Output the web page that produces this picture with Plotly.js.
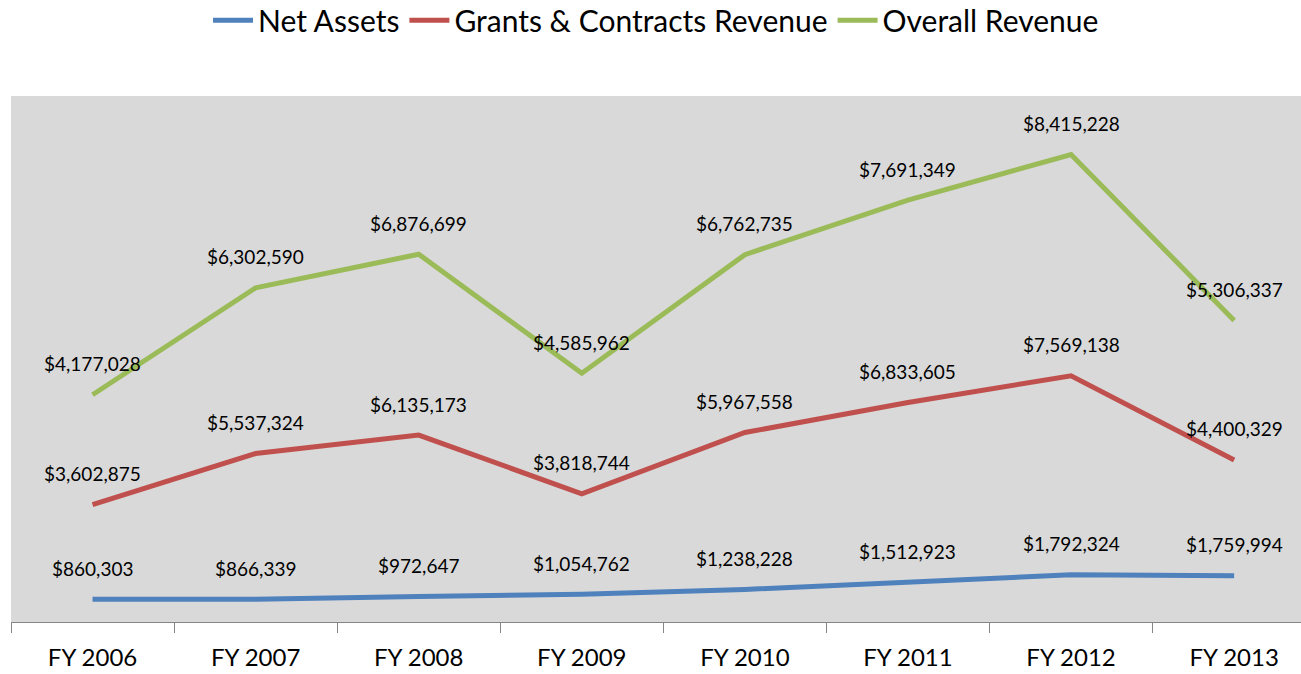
<!doctype html>
<html><head><meta charset="utf-8" />
<script src="https://cdn.plot.ly/plotly-3.0.1.min.js"></script>
<style>
  html, body { margin:0; padding:0; background:#fff; }
  #chart { width:1301px; height:674px; }
</style></head>
<body>
<div id="chart"></div>
<script>
// stacked line chart (Excel style): each series sits on top of the previous one
const years = ['FY 2006', 'FY 2007', 'FY 2008', 'FY 2009', 'FY 2010', 'FY 2011', 'FY 2012', 'FY 2013'];
const netAssets = [860303, 866339, 972647, 1054762, 1238228, 1512923, 1792324, 1759994];
const grants = [3602875, 5537324, 6135173, 3818744, 5967558, 6833605, 7569138, 4400329];
const overall = [4177028, 6302590, 6876699, 4585962, 6762735, 7691349, 8415228, 5306337];

const series = [
  { name: 'Net Assets', values: netAssets, color: '#4F81BD' },
  { name: 'Grants & Contracts Revenue', values: grants, color: '#C0504D' },
  { name: 'Overall Revenue', values: overall, color: '#9BBB59' },
];

const FONT = 'Lato, "Open Sans", sans-serif';
const fmt = (v) => '$' + v.toLocaleString('en-US');

const traces = series.map((s) => ({
  type: 'scatter', mode: 'lines', name: s.name,
  x: years, y: s.values, stackgroup: 'one', fill: 'none',
  line: { color: s.color, width: 5 },
  hoverinfo: 'skip',
}));

// data labels sit above the stacked point
const annotations = [];
const base = years.map(() => 0);
series.forEach((s) => {
  s.values.forEach((v, i) => {
    base[i] += v;
    annotations.push({
      x: years[i], y: base[i], text: fmt(v), showarrow: false,
      yanchor: 'middle', yshift: 31,
      font: { family: FONT, size: 19, color: '#000' },
    });
  });
});

const layout = {
  width: 1301, height: 674,
  paper_bgcolor: '#fff', plot_bgcolor: '#D9D9D9',
  margin: { l: 11, r: 0, t: 96, b: 52 },
  font: { family: FONT, color: '#000' },
  showlegend: true,
  legend: {
    orientation: 'h', x: 0.5, xanchor: 'center', y: 0.97, yanchor: 'middle',
    yref: 'container', traceorder: 'normal',
    font: { family: FONT, size: 30, color: '#000' },
    itemwidth: 40, bgcolor: 'rgba(0,0,0,0)',
  },
  xaxis: {
    type: 'category', range: [-0.5, 7.41], fixedrange: true,
    showline: true, linecolor: '#868686', linewidth: 1,
    tickson: 'boundaries', ticks: 'outside', ticklen: 10, tickcolor: '#868686',
    ticklabelstandoff: 14,
    showgrid: false, zeroline: false,
    tickfont: { family: FONT, size: 24, color: '#000' },
  },
  yaxis: {
    range: [0, 20000000], showgrid: false, zeroline: false,
    showticklabels: false, showline: false, ticks: '',
  },
  annotations,
};

Plotly.newPlot('chart', traces, layout, { displayModeBar: false, staticPlot: true });
</script>
</body></html>
